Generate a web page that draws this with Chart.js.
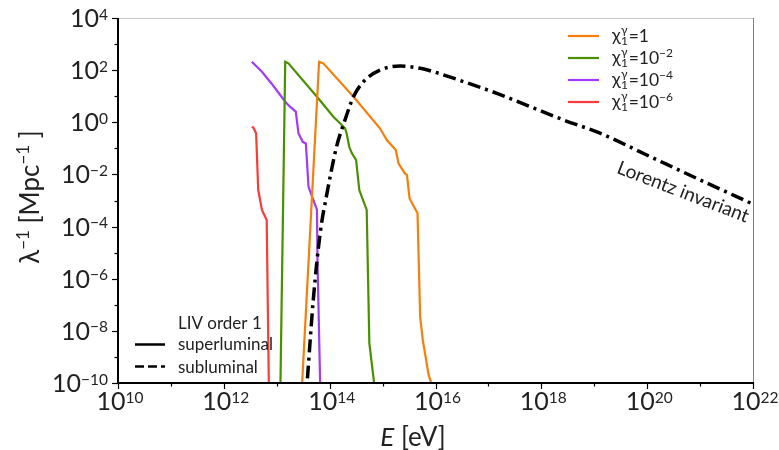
<!DOCTYPE html>
<html>
<head>
<meta charset="utf-8">
<script src="https://cdn.jsdelivr.net/npm/chart.js@4.4.1/dist/chart.umd.min.js"></script>
<style>
  html, body { margin: 0; padding: 0; background: #fff; }
  #wrap { width: 779px; height: 450px; position: relative; }
</style>
</head>
<body>
<div id="wrap"><canvas id="liv"></canvas></div>
<script>
// values, as log10(E/eV) and log10(lambda^-1 / Mpc^-1)
const orangeLogE = [13.48, 13.80, 13.88, 14.45, 14.95, 15.08, 15.25, 15.30, 15.42, 15.46, 15.51, 15.66, 15.71, 15.76, 15.87, 15.92];
const orangeLogL = [-10, 2.32, 2.26, 0.98, -0.23, -0.68, -1.06, -1.57, -1.96, -2.02, -2.92, -3.49, -7.46, -8.35, -9.69, -10];

const greenLogE = [13.07, 13.16, 13.22, 13.76, 14.07, 14.29, 14.32, 14.37, 14.42, 14.50, 14.56, 14.70, 14.75, 14.84];
const greenLogL = [-10, 2.32, 2.26, 0.98, 0.21, -0.23, -0.42, -0.94, -1.19, -1.45, -2.60, -3.36, -8.48, -10];

const purpleLogE = [12.53, 12.72, 12.90, 13.09, 13.16, 13.25, 13.36, 13.41, 13.49, 13.55, 13.60, 13.76, 13.77, 13.82];
const purpleLogL = [2.32, 1.94, 1.49, 0.98, 0.79, 0.60, 0.41, -0.42, -0.75, -0.81, -2.47, -3.36, -5.28, -10];

const redLogE = [12.53, 12.56, 12.61, 12.65, 12.72, 12.81, 12.85];
const redLogL = [-0.17, -0.21, -0.42, -2.60, -3.36, -3.75, -10];

const liLogE = [13.58, 13.69, 13.82, 13.95, 14.13, 14.29, 14.45, 14.64, 14.95, 15.33, 15.71, 15.96, 16.53, 17.16, 17.79, 18.42, 19.11, 20.06, 21.00, 22.00];
const liLogL = [-9.82, -6.82, -4.26, -2.72, -0.94, 0.09, 0.98, 1.56, 2.00, 2.16, 2.07, 1.94, 1.56, 1.11, 0.60, 0.09, -0.42, -1.32, -2.21, -3.14];

const seriesLabels = ['1', '10|−2', '10|−4', '10|−6'];
const seriesColors = ['#f57f0a', '#4a8f00', '#a03cf7', '#fb3b3b'];

const xDecades = [10, 11, 12, 13, 14, 15, 16, 17, 18, 19, 20, 21, 22];
const yDecades = [-10, -9, -8, -7, -6, -5, -4, -3, -2, -1, 0, 1, 2, 3, 4];

const FONT = 'Lato, "DejaVu Sans", sans-serif';

function pts(le, ll) {
    return le.map((e, i) => ({x: Math.pow(10, e), y: Math.pow(10, ll[i])}));
}

function supText(ctx, parts, x, y, size, supSize, rise) {
    // parts: [text, exponent, text, exponent ...], draws left to right, returns width
    let cx = x;
    parts.forEach((p, i) => {
        if (!p) return;
        const sup = i % 2 === 1;
        ctx.font = (sup ? supSize : size) + 'px ' + FONT;
        ctx.fillText(p, cx, sup ? y - rise : y);
        cx += ctx.measureText(p).width;
    });
    return cx - x;
}

function supWidth(ctx, parts, size, supSize) {
    let w = 0;
    parts.forEach((p, i) => {
        if (!p) return;
        ctx.font = ((i % 2) ? supSize : size) + 'px ' + FONT;
        w += ctx.measureText(p).width;
    });
    return w;
}

const decor = {
    id: 'decor',
    afterDatasetsDraw(chart) {
        const ctx = chart.ctx;
        const a = chart.chartArea;
        const xs = chart.scales.x, ys = chart.scales.y;
        ctx.save();

        // spines
        ctx.lineWidth = 1;
        ctx.strokeStyle = '#c8c8c8';
        ctx.beginPath(); ctx.moveTo(a.left, a.top + 0.5); ctx.lineTo(a.right, a.top + 0.5); ctx.stroke();
        ctx.strokeStyle = '#808080';
        ctx.beginPath(); ctx.moveTo(a.right + 0.5, a.top); ctx.lineTo(a.right + 0.5, a.bottom); ctx.stroke();
        ctx.lineWidth = 2;
        ctx.strokeStyle = '#000';
        ctx.beginPath(); ctx.moveTo(a.left, a.top); ctx.lineTo(a.left, a.bottom); ctx.lineTo(a.right + 1, a.bottom); ctx.stroke();

        // ticks
        ctx.lineWidth = 1.2;
        xDecades.forEach(d => {
            const px = Math.round(xs.getPixelForValue(Math.pow(10, d))) + 0.5;
            const len = d % 2 === 0 ? 6 : 3.5;
            ctx.beginPath(); ctx.moveTo(px, a.bottom); ctx.lineTo(px, a.bottom + len); ctx.stroke();
        });
        yDecades.forEach(d => {
            const py = Math.round(ys.getPixelForValue(Math.pow(10, d))) + 0.5;
            const len = d % 2 === 0 ? 6 : 3.5;
            ctx.beginPath(); ctx.moveTo(a.left, py); ctx.lineTo(a.left - len, py); ctx.stroke();
        });

        // tick labels
        ctx.fillStyle = '#222';
        ctx.textBaseline = 'alphabetic';
        ctx.textAlign = 'left';
        xDecades.filter(d => d % 2 === 0).forEach(d => {
            const px = xs.getPixelForValue(Math.pow(10, d));
            const parts = ['10', String(d)];
            const w = supWidth(ctx, parts, 25, 15.5);
            supText(ctx, parts, px - w / 2 + 2, 410, 25, 15.5, 7.5);
        });
        yDecades.filter(d => d % 2 === 0).forEach(d => {
            const py = ys.getPixelForValue(Math.pow(10, d));
            const parts = ['10', d < 0 ? '−' + (-d) : String(d)];
            const w = supWidth(ctx, parts, 25, 15.5);
            supText(ctx, parts, 108 - w, py + 9, 25, 15.5, 7.5);
        });

        // axis titles
        ctx.font = 'italic 26px ' + FONT;
        const eW = ctx.measureText('E').width;
        ctx.font = '26px ' + FONT;
        const restW = ctx.measureText(' [eV]').width;
        const x0 = 413 - (eW + restW) / 2;
        ctx.font = 'italic 26px ' + FONT;
        ctx.fillText('E', x0, 446);
        ctx.font = '26px ' + FONT;
        ctx.fillText(' [eV]', x0 + eW, 446);

        ctx.save();
        ctx.translate(39, 197);
        ctx.rotate(-Math.PI / 2);
        const yParts = ['λ', '−1', ' [Mpc', '−1', ' ]'];
        const yw = supWidth(ctx, yParts, 26, 17);
        supText(ctx, yParts, -yw / 2, 0, 26, 17, 10);
        ctx.restore();

        // legend, top right
        seriesLabels.forEach((lab, i) => {
            const ly = 36 + i * 22;
            ctx.strokeStyle = seriesColors[i];
            ctx.lineWidth = 2.2;
            ctx.beginPath(); ctx.moveTo(568, ly); ctx.lineTo(599, ly); ctx.stroke();
            ctx.fillStyle = '#222';
            ctx.font = '18px ' + FONT;
            let cx = 612;
            ctx.fillText('χ', cx, ly + 5);
            cx += ctx.measureText('χ').width + 0.5;
            ctx.font = '12px ' + FONT;
            ctx.fillText('1', cx, ly + 9);
            ctx.fillText('γ', cx, ly - 2);
            cx += ctx.measureText('γ').width + 1;
            const [b, e] = lab.split('|');
            supText(ctx, ['=' + b, e || ''], cx, ly + 6, 17.5, 12, 7);
        });

        // legend, bottom left
        ctx.fillStyle = '#222';
        ctx.font = '17px ' + FONT;
        ctx.fillText('LIV order 1', 178, 329);
        ctx.fillText('superluminal', 178, 350);
        ctx.fillText('subluminal', 178, 373);
        ctx.strokeStyle = '#000';
        ctx.lineWidth = 2.5;
        ctx.beginPath(); ctx.moveTo(135, 344.5); ctx.lineTo(165, 344.5); ctx.stroke();
        ctx.setLineDash([9, 4]);
        ctx.beginPath(); ctx.moveTo(135, 366.5); ctx.lineTo(165, 366.5); ctx.stroke();
        ctx.setLineDash([]);

        // curve annotation
        ctx.save();
        ctx.translate(683, 192);
        ctx.rotate(21 * Math.PI / 180);
        ctx.font = '19px ' + FONT;
        ctx.textAlign = 'center';
        ctx.textBaseline = 'middle';
        ctx.fillText('Lorentz invariant', 0, 0);
        ctx.restore();

        ctx.restore();
    }
};

new Chart(document.getElementById('liv'), {
    type: 'scatter',
    data: {
        datasets: [{
            label: 'Lorentz invariant',
            data: pts(liLogE, liLogL),
            showLine: true,
            borderColor: '#000',
            borderWidth: 3.5,
            borderDash: [13, 5, 3, 5],
            cubicInterpolationMode: 'monotone',
            pointRadius: 0,
        }, {
            label: 'chi=1',
            data: pts(orangeLogE, orangeLogL),
            showLine: true,
            borderColor: seriesColors[0],
            borderWidth: 2.2,
            pointRadius: 0,
        }, {
            label: 'chi=1e-2',
            data: pts(greenLogE, greenLogL),
            showLine: true,
            borderColor: seriesColors[1],
            borderWidth: 2.2,
            pointRadius: 0,
        }, {
            label: 'chi=1e-4',
            data: pts(purpleLogE, purpleLogL),
            showLine: true,
            borderColor: seriesColors[2],
            borderWidth: 2.2,
            pointRadius: 0,
        }, {
            label: 'chi=1e-6',
            data: pts(redLogE, redLogL),
            showLine: true,
            borderColor: seriesColors[3],
            borderWidth: 2.2,
            pointRadius: 0,
        }]
    },
    options: {
        responsive: true,
        maintainAspectRatio: false,
        animation: false,
        layout: {
            padding: {left: 118, right: 26, top: 18, bottom: 67}
        },
        scales: {
            x: {
                type: 'logarithmic',
                min: 1e10,
                max: 1e22,
                display: false,
            },
            y: {
                type: 'logarithmic',
                min: 1e-10,
                max: 1e4,
                display: false,
            }
        },
        plugins: {
            legend: {display: false},
            tooltip: {enabled: false},
        },
    },
    plugins: [decor]
});
</script>
</body>
</html>
